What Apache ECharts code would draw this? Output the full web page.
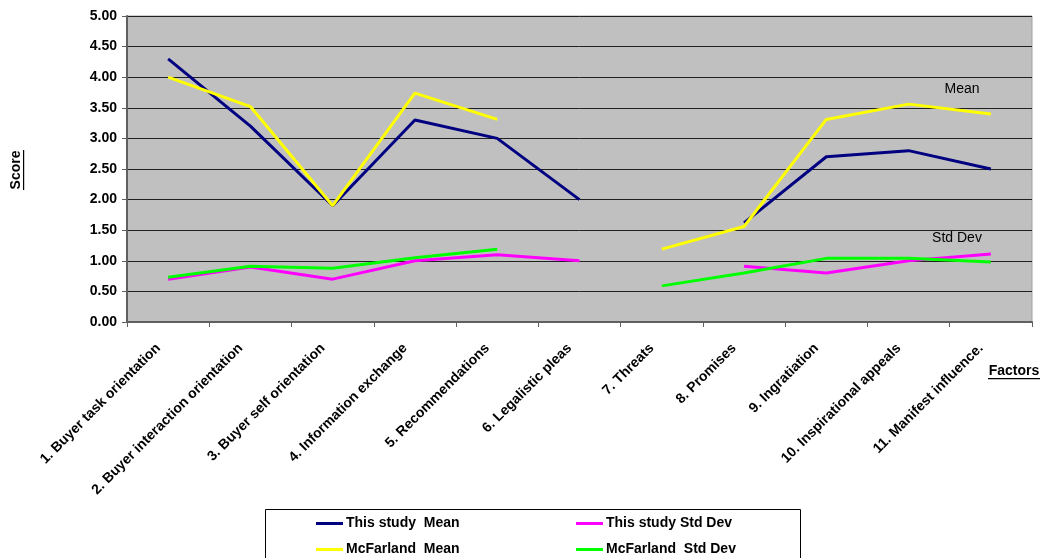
<!DOCTYPE html>
<html>
<head>
<meta charset="utf-8">
<script src="https://cdn.jsdelivr.net/npm/echarts@6/dist/echarts.min.js"></script>
<style>
  html, body { margin: 0; padding: 0; background: #fff; }
  #chart { width: 1044px; height: 558px; }
</style>
</head>
<body>
<div id="chart"></div>
<script>
// Factors compared between the two studies
const factors = [
  '1. Buyer task orientation',
  '2. Buyer interaction orientation',
  '3. Buyer self orientation',
  '4. Information exchange',
  '5. Recommendations',
  '6. Legalistic pleas',
  '7. Threats',
  '8. Promises',
  '9. Ingratiation',
  '10. Inspirational appeals',
  '11. Manifest influence.'
];

// Scores per factor (null = no value reported)
const thisStudyMean = [4.30, 3.20, 1.90, 3.30, 3.00, 2.00, null, 1.62, 2.70, 2.80, 2.50];
const mcFarlandMean = [4.00, 3.52, 1.90, 3.74, 3.31, null, 1.19, 1.56, 3.31, 3.56, 3.40];
const thisStudySD   = [0.70, 0.90, 0.70, 1.00, 1.10, 1.00, null, 0.91, 0.80, 1.00, 1.11];
const mcFarlandSD   = [0.73, 0.91, 0.88, 1.05, 1.19, null, 0.59, 0.80, 1.04, 1.04, 0.98];

const yTicks = { min: 0, max: 5, interval: 0.5 };

const FONT = 'Liberation Sans, Arial, sans-serif';

const chart = echarts.init(document.getElementById('chart'), null, { renderer: 'canvas' });

function lineSeries(name, data, color) {
  return {
    name: name,
    type: 'line',
    data: data,
    showSymbol: false,
    symbol: 'none',
    connectNulls: false,
    lineStyle: { color: color, width: 3 },
    itemStyle: { color: color },
    z: 3
  };
}

chart.setOption({
  animation: false,
  backgroundColor: '#ffffff',
  grid: {
    left: 127, right: 12, top: 16, bottom: 236,
    show: true,
    backgroundColor: '#C0C0C0',
    borderColor: '#a0a0a0',
    borderWidth: 1
  },
  legend: {
    left: 311,
    top: 508,
    width: 530,
    orient: 'horizontal',
    itemWidth: 27,
    itemHeight: 14,
    itemGap: 5,
    icon: 'path://M0,6 L27,6 L27,9 L0,9 Z',
    data: ['This study  Mean', 'This study Std Dev', 'McFarland  Mean', 'McFarland  Std Dev'],
    textStyle: {
      fontFamily: FONT, fontWeight: 'bold', fontSize: 14, color: '#000',
      width: 225, lineHeight: 21, padding: [0, 0, 0, -2]
    },
    z: 10
  },
  xAxis: {
    type: 'category',
    data: factors,
    boundaryGap: true,
    axisLine: { show: true, lineStyle: { color: '#606060', width: 2 } },
    axisTick: { show: true, inside: false, length: 5, alignWithLabel: false, lineStyle: { color: '#606060', width: 1 } },
    axisLabel: {
      interval: 0, rotate: 45, margin: 14,
      padding: [0, 14, 0, 0],
      fontFamily: FONT, fontWeight: 'bold', fontSize: 14, color: '#000'
    },
    splitLine: { show: false }
  },
  yAxis: {
    type: 'value',
    min: yTicks.min, max: yTicks.max, interval: yTicks.interval,
    axisLine: { show: true, lineStyle: { color: '#606060', width: 2 } },
    axisTick: { show: true, inside: false, length: 5, lineStyle: { color: '#606060', width: 1 } },
    axisLabel: {
      margin: 10,
      fontFamily: FONT, fontWeight: 'bold', fontSize: 14, color: '#000',
      formatter: v => v.toFixed(2)
    },
    splitLine: { show: true, lineStyle: { color: '#202020', width: 1 } }
  },
  series: [
    lineSeries('This study  Mean', thisStudyMean, '#000080'),
    lineSeries('McFarland  Mean', mcFarlandMean, '#FFFF00'),
    lineSeries('This study Std Dev', thisStudySD, '#FF00FF'),
    lineSeries('McFarland  Std Dev', mcFarlandSD, '#00FF00')
  ],
  graphic: [
    // legend frame, running off the lower edge
    {
      type: 'rect', z: 1,
      shape: { x: 265.5, y: 509.5, width: 535, height: 60 },
      style: { fill: '#fff', stroke: '#000', lineWidth: 1 }
    },
    // axis titles (underlined)
    {
      type: 'group', x: 16, y: 170, rotation: Math.PI / 2, z: 5,
      children: [
        { type: 'text', style: { text: 'Score', x: 0, y: 0, align: 'center', verticalAlign: 'middle',
            font: 'bold 14px ' + FONT, fill: '#000' } },
        { type: 'rect', shape: { x: -20, y: 7, width: 40, height: 1.2 }, style: { fill: '#000' } }
      ]
    },
    {
      type: 'group', x: 1014, y: 371, z: 5,
      children: [
        { type: 'text', style: { text: 'Factors', x: 0, y: 0, align: 'center', verticalAlign: 'middle',
            font: 'bold 14px ' + FONT, fill: '#000' } },
        { type: 'rect', shape: { x: -26, y: 7, width: 52, height: 1.2 }, style: { fill: '#000' } }
      ]
    },
    // series group annotations
    {
      type: 'text', x: 962, y: 89, z: 5,
      style: { text: 'Mean', align: 'center', verticalAlign: 'middle', font: '14px ' + FONT, fill: '#000' }
    },
    {
      type: 'text', x: 957, y: 238, z: 5,
      style: { text: 'Std Dev', align: 'center', verticalAlign: 'middle', font: '14px ' + FONT, fill: '#000' }
    }
  ]
});
</script>
</body>
</html>
